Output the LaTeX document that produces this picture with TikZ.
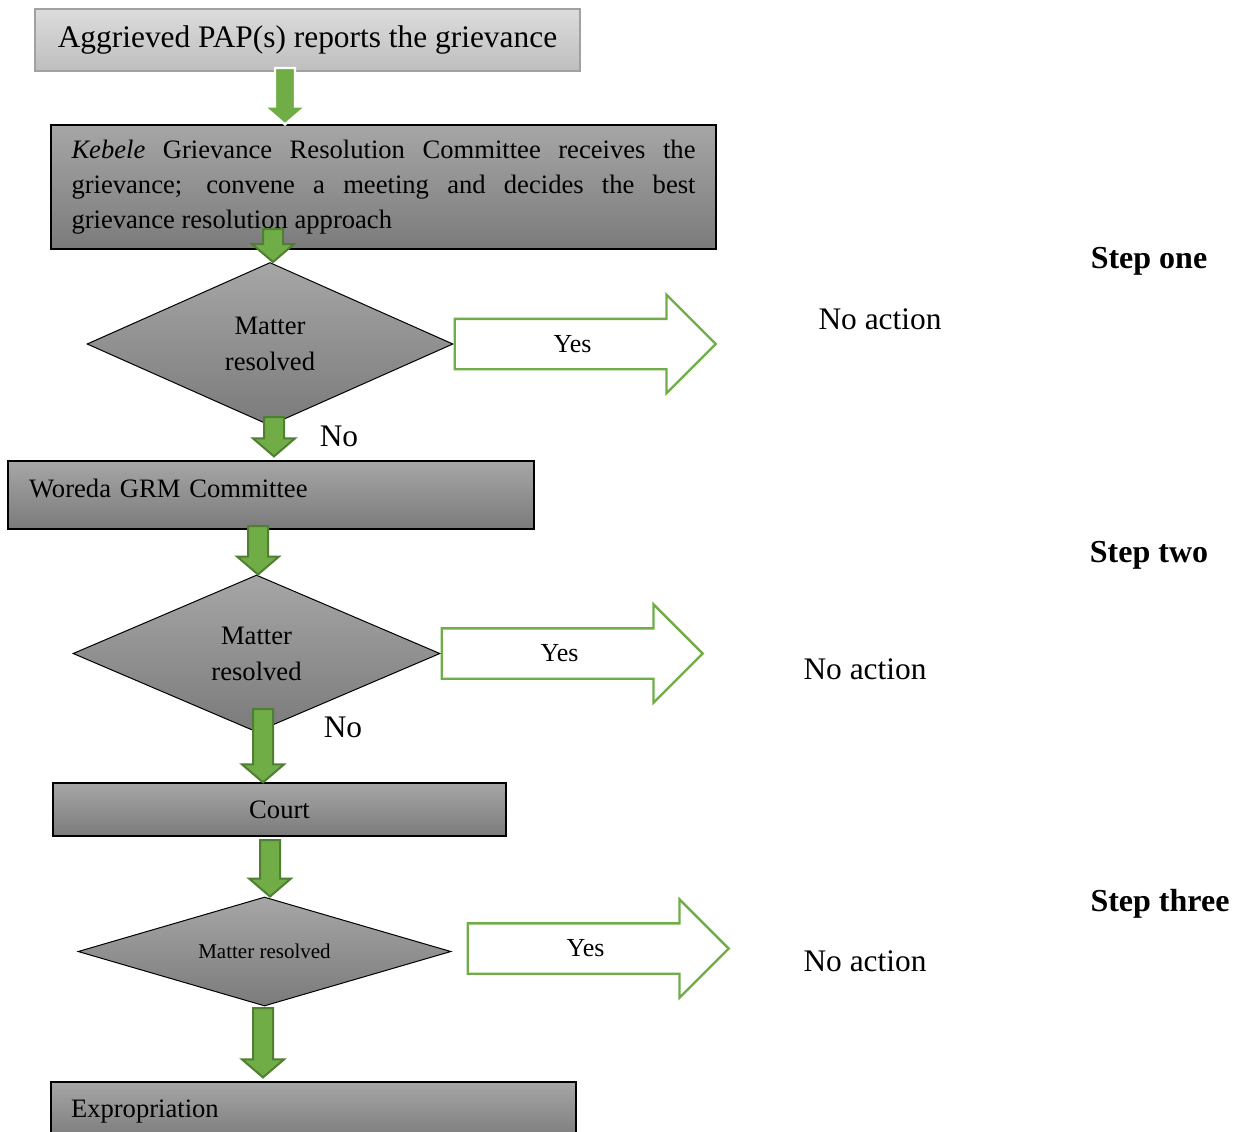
\documentclass[tikz,border=0pt]{standalone}
\usepackage{fontspec}
\setmainfont{Liberation Serif}
\usetikzlibrary{shapes.geometric,shapes.arrows,calc}
\definecolor{gf}{HTML}{70AD47}
\definecolor{gd}{HTML}{507E32}
\definecolor{bxt}{HTML}{A6A6A6}
\definecolor{bxb}{HTML}{7B7B7B}
\definecolor{lbt}{HTML}{DCDCDC}
\definecolor{lbb}{HTML}{BEBEBE}
\newcommand{\fs}[2]{\fontsize{#1}{#2}\selectfont}
\tikzset{
  gbox/.style={draw=black,line width=0.6pt,top color=bxt,bottom color=bxb,inner ysep=0pt,font=\fs{13.3}{17.5}},
  lbox/.style={draw=lbb!85!black,line width=0.6pt,top color=lbt,bottom color=lbb,inner sep=0pt},
  dec/.style={diamond,draw=black,line width=0.5pt,top color=bxt,bottom color=bxb,inner sep=0pt,align=center,font=\fs{13.3}{18}},
  yarr/.style={single arrow,draw=gf,line width=1.2pt,fill=white,minimum height=130.5pt,minimum width=48pt,
    single arrow head extend=12pt,text height=8pt,text depth=0pt,inner ysep=8pt,inner xsep=0pt,font=\fs{13}{15}},
  garr/.style={draw=gd,fill=gf,line width=1pt,
    to path={let \p1=(\tikztostart), \p2=(\tikztotarget) in
      (\x1-5pt,\y1) -- (\x1-5pt,\y2+9pt) -- (\x1-10.5pt,\y2+9pt) -- (\x1,\y2)
      -- (\x1+10.5pt,\y2+9pt) -- (\x1+5pt,\y2+9pt) -- (\x1+5pt,\y1) -- cycle}},
  warr/.style={garr,draw=white,line width=1.2pt},
  lbl/.style={font=\fs{15.7}{18}},
  stp/.style={font=\fs{16}{18}\bfseries},
}
\begin{document}
\begin{tikzpicture}[x=0.5pt,y=-0.5pt]
  \path[use as bounding box,fill=white] (0,0) rectangle (1235,1131);

  \node[lbox,minimum width=272.5pt,minimum height=31pt,font=\fs{15.7}{18}] (rep) at (307.5,40)
    {Aggrieved PAP(s) reports the grievance};
  \node[gbox,text width=312pt,inner xsep=10.25pt,minimum height=62pt,align=justify] (keb) at (383.5,187)
    {\tolerance=9999\hyphenpenalty=10000 \textit{Kebele} Grievance Resolution Committee receives the
     grievance; convene a meeting and decides the best grievance resolution approach};

  \node[dec,minimum width=183pt,minimum height=81.5pt] (d1) at (270,344) {Matter\\resolved};
  \node[yarr,anchor=tail] (y1) at (d1.east) {Yes};
  \node[lbl] (na1) at (880,319) {No action};
  \node[stp] (s1) at (1149,261) {Step one};
  \node[lbl] (no1) at (339,436) {No};

  \node[gbox,text width=242pt,inner xsep=10.5pt,minimum height=34pt,text depth=7pt,align=left] (wor) at (271,495)
    {Woreda GRM Committee};

  \node[dec,minimum width=183.5pt,minimum height=78.5pt] (d2) at (256.5,653.5) {Matter\\resolved};
  \node[yarr,anchor=tail] (y2) at (d2.east) {Yes};
  \node[lbl] (na2) at (865,669) {No action};
  \node[stp] (s2) at (1149,555) {Step two};
  \node[lbl] (no2) at (343,727) {No};

  \node[gbox,minimum width=226.5pt,minimum height=26.5pt] (court) at (279.5,809.5) {Court};

  \node[dec,aspect=3.4,minimum width=186.5pt,minimum height=54.5pt,font=\fs{10.5}{12}] (d3) at (264.5,951.5) {Matter resolved};
  \node[yarr,anchor=tail] (y3) at ([xshift=7.5pt,yshift=1.5pt]d3.east) {Yes};
  \node[lbl] (na3) at (865,961) {No action};
  \node[stp] (s3) at (1160,904) {Step three};

  \node[gbox,text width=242.5pt,inner xsep=10pt,minimum height=29pt,align=left] (exp) at (313.5,1111)
    {Expropriation};

  \coordinate (p1) at (285,68);
  \coordinate (p2) at (273,229);
  \coordinate (p3) at (274,417);
  \coordinate (p4) at (258,526);
  \coordinate (p5) at (263,709);
  \coordinate (p6) at (270,840);
  \coordinate (p7) at (263,1008);

  \draw[warr] (p1) to (p1 |- keb.north);
  \draw[garr] (p2) to (p2 |- d1.north);
  \draw[garr] (p3) to ([yshift=2pt]p3 |- wor.north);
  \draw[garr] (p4) to (p4 |- d2.north);
  \draw[garr] (p5) to (p5 |- court.north);
  \draw[garr] (p6) to (p6 |- d3.north);
  \draw[garr] (p7) to ([yshift=2pt]p7 |- exp.north);
\end{tikzpicture}
\end{document}
